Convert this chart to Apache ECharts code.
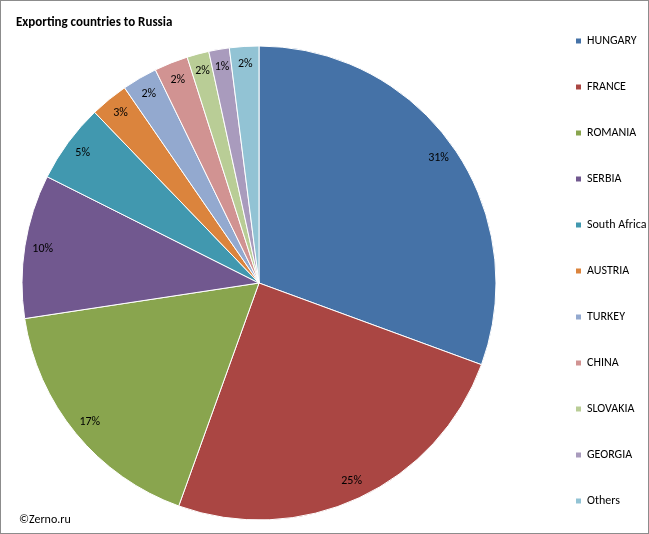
<!DOCTYPE html><html><head><meta charset="utf-8"><script src="https://cdn.jsdelivr.net/npm/echarts@6/dist/echarts.min.js"></script>
<style>html,body{margin:0;padding:0;background:#fff}#c{width:647px;height:532px;border:1px solid #8c8c8c}</style></head><body><div id="c"></div><script>
const categories=['HUNGARY','FRANCE','ROMANIA','SERBIA','South Africa','AUSTRIA','TURKEY','CHINA','SLOVAKIA','GEORGIA','Others'];
const values=[30.6,24.9,17.1,9.8,5.4,2.6,2.4,2.3,1.5,1.4,2.0];
const colors=['#4572A7','#AA4643','#89A54E','#71588F','#4198AF','#DB843D','#93A9CF','#D19392','#B9CD96','#A99BBD','#92C3D4'];
const data=categories.map((n,i)=>({name:n,value:values[i],itemStyle:{color:colors[i]}}));
const ch=echarts.init(document.getElementById('c'));
const ff='Calibri, Carlito, "Liberation Sans", sans-serif';
ch.setOption({animation:false,
title:[{text:'Exporting countries to Russia',left:10,top:10,textStyle:{fontSize:13,fontWeight:'bold',color:'#000',fontFamily:ff}},
{text:'©Zerno.ru',left:13,bottom:2,textStyle:{fontSize:12,fontWeight:'normal',color:'#000',fontFamily:ff}}],
legend:{orient:'vertical',left:568,top:29,itemWidth:7,itemHeight:7,itemGap:34,icon:'rect',data:categories,textStyle:{fontSize:12,color:'#000',fontFamily:ff}},
series:[{type:'pie',center:[258,282],radius:[0,237],startAngle:90,clockwise:true,data:data,label:{show:false},labelLine:{show:false},itemStyle:{borderColor:'#fff',borderWidth:1}},
{type:'pie',center:[258,282],radius:[192,240],startAngle:90,clockwise:true,silent:true,legendHoverLink:false,
data:categories.map((n,i)=>({name:n+' ',value:values[i]})),itemStyle:{color:'rgba(0,0,0,0)'},
label:{show:true,position:'inside',formatter:p=>Math.round(values[p.dataIndex])+'%',fontSize:12,color:'#000',fontFamily:ff},labelLine:{show:false}}]});
</script></body></html>
